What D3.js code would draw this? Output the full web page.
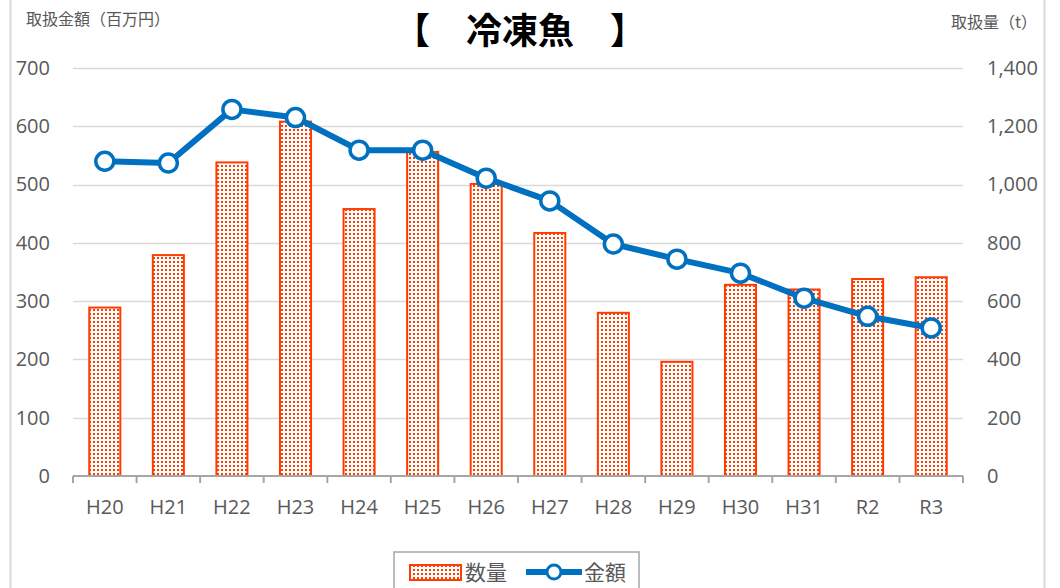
<!DOCTYPE html>
<html><head><meta charset="utf-8">
<script src="https://cdn.jsdelivr.net/npm/d3@7"></script>
<style>
html,body{margin:0;padding:0;background:#fff;}
svg{display:block;font-family:"Noto Sans CJK JP","Noto Sans",sans-serif;}
</style></head>
<body><svg id="c" width="1060" height="588"></svg>
<script>
const categories = ["H20","H21","H22","H23","H24","H25","H26","H27","H28","H29","H30","H31","R2","R3"];
const quantity = [578, 758, 1076, 1216, 916, 1112, 1002, 834, 560, 392, 656, 640, 676, 682]; // 数量 (t)
const amount = [540, 537, 629, 615, 559, 559, 511, 472, 398, 372, 348, 305, 274, 254]; // 金額 (百万円)
const leftTicks = [0,100,200,300,400,500,600,700];
const rightTicks = [0,200,400,600,800,1000,1200,1400];
const titleText = "【　冷凍魚　】";
const leftAxisTitle = "取扱金額（百万円）";
const rightAxisTitle = "取扱量（t）";
const seriesNames = ["数量","金額"];

const svg = d3.select("#c");
const W = 1060, H = 588;
const m = {left:73, right:963, top:68, bottom:476};
const red = "#FF3C00", blue = "#0070C0", grey = "#595959";
const numFont = "'Open Sans','Noto Sans',sans-serif";

const defs = svg.append("defs");
const pat = defs.append("pattern").attr("id","dots").attr("patternUnits","userSpaceOnUse")
  .attr("width",4).attr("height",4);
pat.append("rect").attr("width",4).attr("height",4).attr("fill","#fff");
pat.append("rect").attr("x",1).attr("y",1).attr("width",2).attr("height",2).attr("fill","#FF3C00");

// chart border
svg.append("line").attr("x1",10.5).attr("x2",10.5).attr("y1",0).attr("y2",H).attr("stroke","#d9d9d9").attr("stroke-width",2);
svg.append("line").attr("x1",1044.5).attr("x2",1044.5).attr("y1",0).attr("y2",H).attr("stroke","#d9d9d9").attr("stroke-width",2);

const x = d3.scaleBand().domain(categories).range([m.left,m.right]).paddingInner(0.48).paddingOuter(0.24);
const xb = d3.scaleBand().domain(categories).range([m.left,m.right]);
const yL = d3.scaleLinear().domain([0,700]).range([m.bottom,m.top]);
const yR = d3.scaleLinear().domain([0,1400]).range([m.bottom,m.top]);

// gridlines
svg.append("g").selectAll("line").data(leftTicks.slice(1)).join("line")
  .attr("x1",m.left).attr("x2",m.right)
  .attr("y1",d=>Math.round(yL(d))+0.5).attr("y2",d=>Math.round(yL(d))+0.5)
  .attr("stroke","#d9d9d9").attr("stroke-width",1.5);

// left axis labels
const la = svg.append("g").attr("transform",`translate(${m.left},0)`)
  .call(d3.axisLeft(yL).tickValues(leftTicks).tickSize(0).tickPadding(23).tickFormat(d3.format("d")));
la.select(".domain").remove();
la.selectAll("text").attr("font-size",20).attr("fill",grey).attr("font-family",numFont);

// right axis labels
const ra = svg.append("g").attr("transform",`translate(${m.right},0)`)
  .call(d3.axisRight(yR).tickValues(rightTicks).tickSize(0).tickPadding(24).tickFormat(d3.format(",")));
ra.select(".domain").remove();
ra.selectAll("text").attr("font-size",20).attr("fill",grey).attr("font-family",numFont);

// bars
svg.append("g").selectAll("rect").data(categories).join("rect")
  .attr("x",(d)=>x(d)+1).attr("width",x.bandwidth()-2)
  .attr("y",(d,i)=>yR(quantity[i])).attr("height",(d,i)=>m.bottom-yR(quantity[i]))
  .attr("fill","url(#dots)").attr("stroke",red).attr("stroke-width",2);

// x axis
const xa = svg.append("g").attr("transform",`translate(0,${m.bottom})`)
  .call(d3.axisBottom(xb).tickSize(0).tickPadding(24));
xa.select(".domain").attr("stroke","#a6a6a6").attr("stroke-width",2).attr("d",`M${m.left},0H${m.right}`);
xa.selectAll("text").attr("font-size",20).attr("fill",grey).attr("font-family",numFont);
const bounds = categories.map(c=>xb(c)).concat([m.right]);
svg.append("g").selectAll("line").data(bounds).join("line")
  .attr("x1",d=>d).attr("x2",d=>d).attr("y1",m.bottom).attr("y2",m.bottom+7)
  .attr("stroke","#a6a6a6").attr("stroke-width",2);

// line
const cx = c => xb(c)+xb.bandwidth()/2;
svg.append("path").datum(categories)
  .attr("d",d3.line().x(c=>cx(c)).y((c,i)=>yL(amount[i])))
  .attr("fill","none").attr("stroke",blue).attr("stroke-width",6).attr("stroke-linejoin","round");
svg.append("g").selectAll("circle").data(categories).join("circle")
  .attr("cx",c=>cx(c)).attr("cy",(c,i)=>yL(amount[i])).attr("r",9)
  .attr("fill","#fff").attr("stroke",blue).attr("stroke-width",3.5);

// titles
svg.append("text").attr("x",520).attr("y",44).attr("text-anchor","middle")
  .attr("font-size",36).attr("font-weight","bold").attr("fill","#000").text(titleText);
svg.append("text").attr("x",26).attr("y",25).attr("font-size",16).attr("fill",grey).text(leftAxisTitle);
svg.append("text").attr("x",1037).attr("y",28).attr("text-anchor","end").attr("font-size",16).attr("fill",grey).text(rightAxisTitle);

// legend
const lg = svg.append("g");
lg.append("rect").attr("x",394).attr("y",552).attr("width",245).attr("height",40)
  .attr("fill","#fff").attr("stroke","#a6a6a6").attr("stroke-width",1.5);
lg.append("rect").attr("x",410).attr("y",565).attr("width",51).attr("height",15)
  .attr("fill","url(#dots)").attr("stroke",red).attr("stroke-width",2);
lg.append("text").attr("x",465).attr("y",580).attr("font-size",21).attr("fill",grey).text(seriesNames[0]);
lg.append("line").attr("x1",526).attr("x2",582).attr("y1",572).attr("y2",572).attr("stroke",blue).attr("stroke-width",6);
lg.append("circle").attr("cx",554).attr("cy",572).attr("r",7).attr("fill","#fff").attr("stroke",blue).attr("stroke-width",3);
lg.append("text").attr("x",584).attr("y",580).attr("font-size",21).attr("fill",grey).text(seriesNames[1]);
</script></body></html>
